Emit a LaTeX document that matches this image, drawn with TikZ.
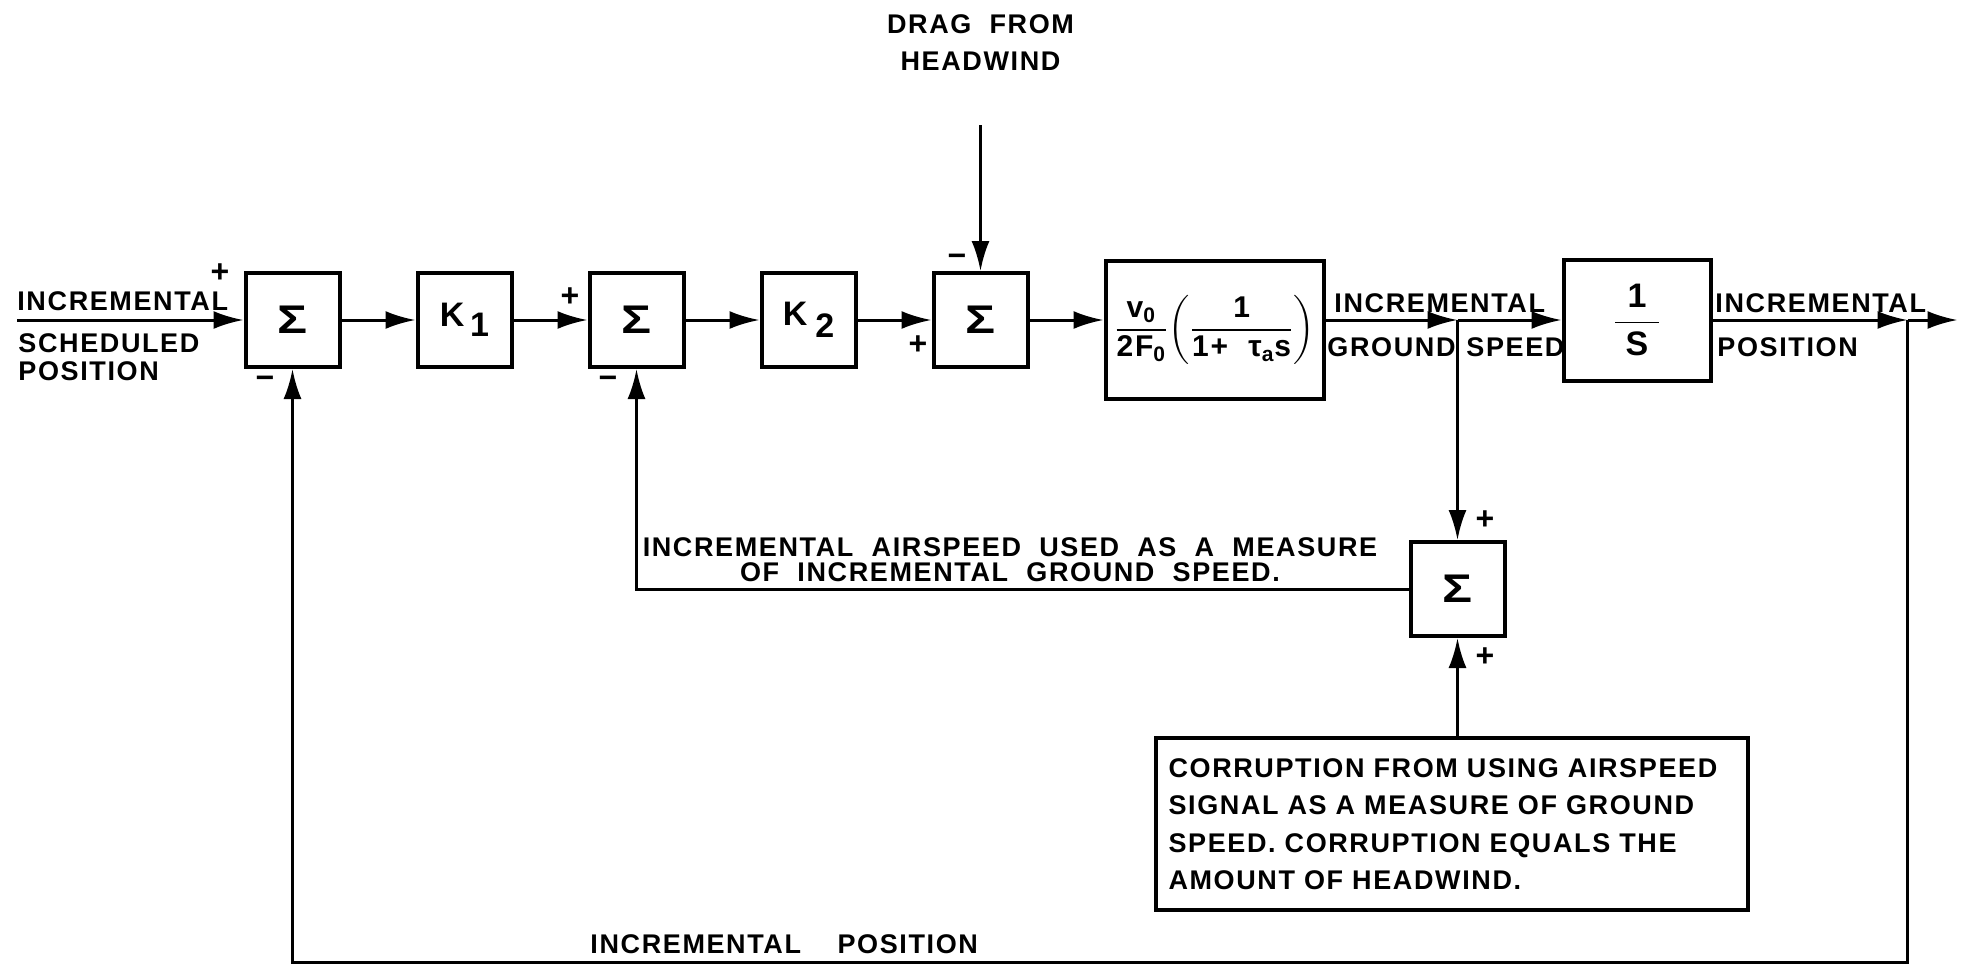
\documentclass[tikz,border=0pt]{standalone}
\usepackage{amsmath}
\usepackage{fontspec}
\setmainfont{Liberation Sans}[LetterSpace=6,WordSpace=2]
\usetikzlibrary{arrows.meta,positioning,calc}
\newcommand{\labfont}{\fontsize{13.5}{14}\selectfont\bfseries}
\newcommand{\notefont}{\fontsize{13.5}{18.75}\selectfont\bfseries}
\newcommand{\sumsym}{\scalebox{1.25}[1]{Σ}}

\begin{document}
\begin{tikzpicture}[x=0.5pt,y=-0.5pt,
  node distance=37pt,
  every node/.style={font=\labfont,inner sep=0pt},
  blk/.style={draw,line width=2pt,minimum width=47pt,minimum height=47pt,align=center},
  sig/.style={blk,font=\fontsize{20}{20}\selectfont\bfseries},
  gain/.style={blk,font=\fontsize{17}{17}\selectfont\bfseries},
  note/.style={draw,line width=2pt,inner xsep=6.5pt,text width=283pt,minimum height=86pt,align=left,font=\notefont},
  sgn/.style={font=\fontsize{16}{16}\selectfont\bfseries},
  ln/.style={line width=1.5pt},
  ar/.style={ln,-{Latex[length=15pt,width=9pt]}}
]
\useasboundingbox (0,0) rectangle (1967,965);
% forward path
\node[sig] (s1) at (292.5,320) {\sumsym};
\node[gain,right=of s1] (k1) {K\,\raisebox{-5pt}{1}};
\node[sig,right=of k1] (s2) {\sumsym};
\node[gain,right=of s2] (k2) {K\hspace{4pt}\raisebox{-6pt}{2}};
\node[sig,right=of k2] (s3) {\sumsym};
\node[blk,right=of s3,minimum width=109pt,minimum height=69pt,yshift=-5pt,font=\fontsize{15}{17}\selectfont\bfseries] (g)
  {$\dfrac{\text{v}_{\text{0}}}{\text{2F}_{\text{0}}}\!\left(\dfrac{\text{1}}{\text{1+ τ}_{\text{a}}\text{s}}\right)$};
\coordinate (b1) at ($(s3.east -| g.east)+(66pt,0)$);
\node[blk,right=52pt of b1,minimum width=73.5pt,minimum height=60.5pt,font=\fontsize{17}{19}\selectfont\bfseries] (is)
  {$\dfrac{\makebox[22pt]{\text{1}}}{\text{S}}$};
\coordinate[right=97.5pt of is] (b2);
\coordinate[right=25pt of b2] (out);
\coordinate (in) at (17,320);
% measurement path
\node[sig,below=110pt of b1] (s4) {\sumsym};
\node[note,below=49pt of s4,xshift=-3pt] (cb) {CORRUPTION FROM USING AIRSPEED\\SIGNAL AS A MEASURE OF GROUND\\SPEED. CORRUPTION EQUALS THE\\AMOUNT OF HEADWIND.};
\node[align=center,above=100pt of s3,font=\fontsize{13.5}{18.5}\selectfont\bfseries] (drag) {DRAG FROM\\HEADWIND};
\coordinate (bl) at (b2 |- 0,962);

\draw[ar] (in) -- (s1);
\draw[ar] (s1) -- (k1);
\draw[ar] (k1) -- (s2);
\draw[ar] (s2) -- (k2);
\draw[ar] (k2) -- (s3);
\draw[ar] (s3) -- (s3 -| g.west);
\draw[ar] (s3 -| g.east) -- (b1);
\draw[ar] (b1) -- (is);
\draw[ar] (is) -- (b2);
\draw[ar] (b2) -- (out);
\draw[ar,shorten <=27pt] (drag) -- (s3);
\draw[ar] (b1) -- (s4);
\draw[ar] (cb.north -| s4) -- (s4);
\draw[ar] (s4) -| (s2);
\draw[ar] (b2) -- (bl) -| (s1);

% signal labels (base = last line)
\node[anchor=base west] (lin1) at (17,310) {INCREMENTAL};
\node[anchor=base west,align=left] (lin2) at (18,380) {SCHEDULED\\POSITION};
\node[anchor=base west] (lgs1) at (1334,312) {INCREMENTAL};
\node[anchor=base west] (lgs2) at (1327,356) {GROUND};
\node[anchor=base west] (lgs3) at (1466,356) {SPEED};
\node[anchor=base west] (lpo1) at (1715,312) {INCREMENTAL};
\node[anchor=base west] (lpo2) at (1717,356) {POSITION};
\node[anchor=base,align=center,font=\fontsize{13.5}{12.5}\selectfont\bfseries] (lair) at (1010,581) {INCREMENTAL AIRSPEED USED AS A MEASURE\\OF INCREMENTAL GROUND SPEED.};
\node[anchor=base west] (lbot) at (590,953) {INCREMENTAL \ POSITION};

% signs
\node[sgn] (p1) at (220,273) {+};
\node[sgn] (m1) at (265,382) {−};
\node[sgn] (p2) at (570,297) {+};
\node[sgn] (m2) at (608,382) {−};
\node[sgn] (m3) at (957,260) {−};
\node[sgn] (p3) at (918,345) {+};
\node[sgn] (p4) at (1485,520) {+};
\node[sgn] (p5) at (1485,657) {+};
\end{tikzpicture}
\end{document}
